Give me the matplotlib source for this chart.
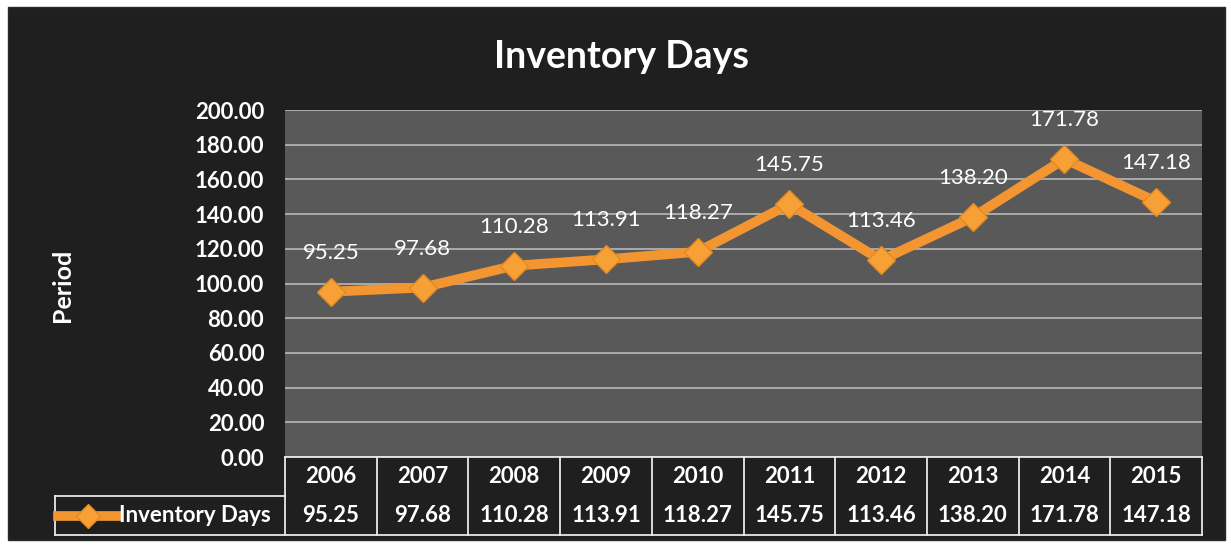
import numpy as np
import matplotlib.pyplot as plt
from matplotlib.patches import Rectangle

years = ['2006', '2007', '2008', '2009', '2010', '2011', '2012', '2013', '2014', '2015']
inventory_days = [95.25, 97.68, 110.28, 113.91, 118.27, 145.75, 113.46, 138.20, 171.78, 147.18]
series_name = 'Inventory Days'
yticks = [0, 20, 40, 60, 80, 100, 120, 140, 160, 180, 200]

plt.rcParams['font.family'] = ['Lato', 'DejaVu Sans']

W, H = 1231, 546
fig = plt.figure(figsize=(W / 100, H / 100), dpi=100)
fig.patch.set_facecolor('white')

# dark chart area
fig.patches.append(Rectangle((8 / W, 1 - 540 / H), (1225 - 8) / W, (540 - 7) / H,
                             transform=fig.transFigure, facecolor='#1f1f1f',
                             edgecolor='#2a2a2a', zorder=-10))

ax = fig.add_axes([285 / W, 1 - 457 / H, (1202 - 285) / W, (457 - 110) / H])
ax.set_zorder(5)
ax.set_facecolor('#595959')
x = np.arange(len(years))
ax.set_xlim(-0.5, len(years) - 0.5)
ax.set_ylim(0, 200)
ax.set_yticks(yticks)
ax.set_yticklabels(['%.2f' % v for v in yticks], color='white', fontsize=16, fontweight='bold')
ax.set_xticks([])
ax.tick_params(axis='y', length=0, pad=15)
ax.grid(axis='y', color='#b8b8b8', linewidth=1.2)
ax.set_axisbelow(True)
for s in ax.spines.values():
    s.set_visible(False)

ax.plot(x, inventory_days, color='#f39632', linewidth=7, marker='D', markersize=14,
        markerfacecolor='#f7a035', markeredgecolor='#e08a20', solid_capstyle='round', zorder=3)
for xi, v in zip(x, inventory_days):
    ax.annotate('%.2f' % v, (xi, v), xytext=(0, 28), textcoords='offset points',
                ha='center', va='center', color='white', fontsize=16)

fig.text(622 / W, 1 - 57 / H, series_name, ha='center', va='center', color='white',
         fontsize=27, fontweight='bold')
fig.text(62 / W, 1 - 285 / H, 'Period', ha='center', va='center', rotation=90,
         color='white', fontsize=18, fontweight='bold')

# data table under the axis
trans = ax.get_xaxis_transform()
y_top = 0.0
row_h = 39 / (457 - 110)
y_mid = -row_h
y_bot = -2 * row_h
lc = '#e8e8e8'
ax.plot([-0.5, len(years) - 0.5], [y_top, y_top], color=lc, lw=1.3, transform=trans, clip_on=False)
ax.plot([-0.5, len(years) - 0.5], [y_bot, y_bot], color=lc, lw=1.3, transform=trans, clip_on=False)
for i in range(len(years) + 1):
    ax.plot([i - 0.5, i - 0.5], [y_top, y_bot], color=lc, lw=1.3, transform=trans, clip_on=False)
for i, (yr, v) in enumerate(zip(years, inventory_days)):
    ax.text(i, (y_top + y_mid) / 2, yr, ha='center', va='center', color='white',
            fontsize=16, fontweight='bold', transform=trans)
    ax.text(i, (y_mid + y_bot) / 2, '%.2f' % v, ha='center', va='center', color='white',
            fontsize=16, fontweight='bold', transform=trans)

# legend cell at the left of the data row
unit = 1 / 91.7
x_left = -0.5 - (285 - 55) * unit
ax.plot([x_left, -0.5], [y_mid, y_mid], color=lc, lw=1.3, transform=trans, clip_on=False)
ax.plot([x_left, -0.5], [y_bot, y_bot], color=lc, lw=1.3, transform=trans, clip_on=False)
ax.plot([x_left, x_left], [y_mid, y_bot], color=lc, lw=1.3, transform=trans, clip_on=False)
yc = (y_mid + y_bot) / 2
ax.plot([x_left + 3 * unit, x_left + 63 * unit], [yc, yc], color='#f39632', lw=7,
        transform=trans, clip_on=False)
ax.plot([x_left + 33 * unit], [yc], marker='D', markersize=12, color='#f7a035',
        markeredgecolor='#e08a20', transform=trans, clip_on=False)
ax.text(x_left + 64 * unit, yc, series_name, ha='left', va='center', color='white',
        fontsize=16, fontweight='bold', transform=trans)

fig.savefig('out.png', dpi=100, facecolor=fig.get_facecolor())
plt.close()
